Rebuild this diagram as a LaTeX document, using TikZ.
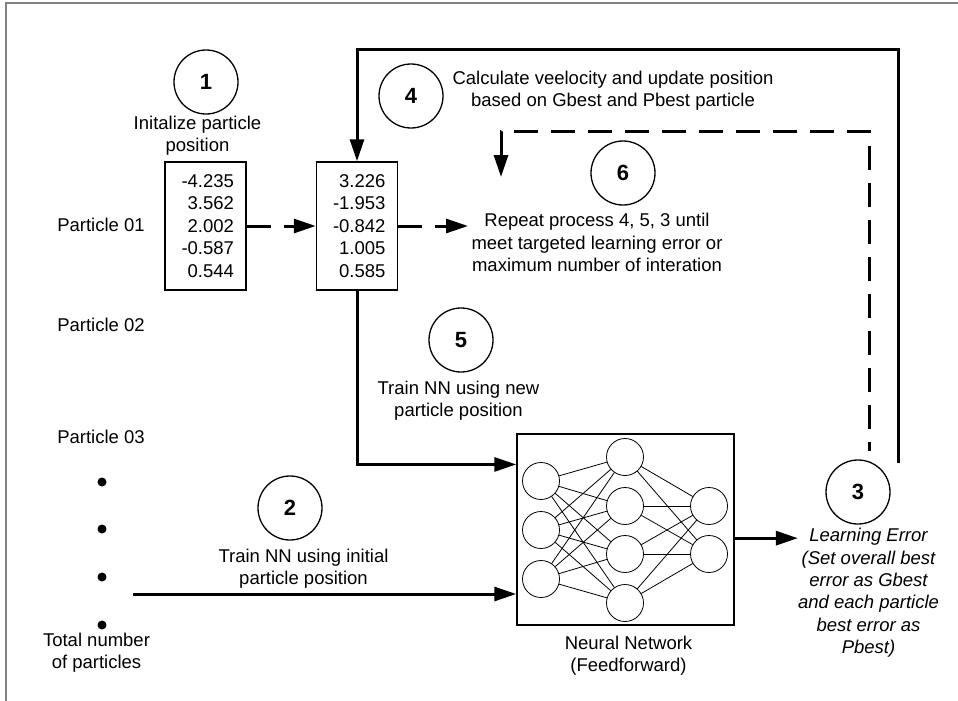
\documentclass[tikz,border=0pt]{standalone}
\usepackage{fontspec}
\setmainfont{Liberation Sans}
\usetikzlibrary{arrows.meta,calc}

\tikzset{
  stepnum/.style={circle, draw, line width=1.3pt, minimum size=64pt, inner sep=0pt,
                  font=\fontsize{22}{24}\selectfont\bfseries},
  numbox/.style={draw, line width=1.5pt, align=right, text width=57pt,
                 inner xsep=12pt, minimum height=128pt},
  txt/.style={align=center, inner sep=0pt},
  neuron/.style={circle, draw, line width=0.8pt, minimum size=37pt, inner sep=0pt},
  flow/.style={line width=3pt, -{Triangle[length=22pt,width=14pt]}},
  dashflow/.style={flow, dash pattern=on 24pt off 13pt}
}

\begin{document}
\begin{tikzpicture}[x=1pt, y=-1pt, font=\fontsize{18.5}{22.4}\selectfont]

\useasboundingbox (0,0) rectangle (958,701);

% frame
\draw [gray, line width=2pt] (958,3) -- (6,3) -- (6,701);

% particles
\node [txt] (part1) at (101,225) {Particle 01};
\node [txt] (part2) at (101,325) {Particle 02};
\node [txt] (part3) at (101,437) {Particle 03};
\foreach \y [count=\k] in {482,529,577,625}
  \node [circle, fill, inner sep=0pt, minimum size=9pt] (dot\k) at (102,\y) {};
\node [txt] (total) at (96.5,653) {Total number\\of particles};

% step 1 and 4: particle positions
\node [stepnum] (s1) at (206,82) {1};
\node [txt] (init) at (197.5,136) {Initalize particle\\position};
\node [numbox] (pos1) at (205.5,226) {-4.235\\3.562\\2.002\\-0.587\\0.544};

\node [stepnum] (s4) at (411,96) {4};
\node [txt] (upd) at (613,90.5) {Calculate veelocity and update position\\based on Gbest and Pbest particle};
\node [numbox] (pos2) at (357,226) {3.226\\-1.953\\-0.842\\1.005\\0.585};

% step 6
\node [stepnum] (s6) at (623,173) {6};
\node [txt] (rep) at (597,242.5) {Repeat process 4, 5, 3 until\\meet targeted learning error or\\maximum number of interation};

% step 5 and 2
\node [stepnum] (s5) at (461,340) {5};
\node [txt] (trnew) at (458.5,401) {Train NN using new\\particle position};
\node [stepnum] (s2) at (290,508) {2};
\node [txt] (trinit) at (303.5,569) {Train NN using initial\\particle position};

% neural network
\node [draw, line width=1.5pt, minimum width=217pt, minimum height=191pt] (nn) at (625.5,529.5) {};
\foreach \y [count=\k] in {481,530,579} \node [neuron] (in\k) at (541,\y) {};
\foreach \y [count=\k] in {457,506,554,603} \node [neuron] (hid\k) at (625,\y) {};
\foreach \y [count=\k] in {506,554} \node [neuron] (out\k) at (709,\y) {};
\foreach \a in {1,2,3} \foreach \b in {1,...,4} \draw [line width=0.8pt] (in\a) -- (hid\b);
\foreach \a in {1,...,4} \foreach \b in {1,2} \draw [line width=0.8pt] (hid\a) -- (out\b);
\node [txt] (nncap) at (628.5,656) {Neural Network\\(Feedforward)};

% step 3
\node [stepnum] (s3) at (858,492) {3};
\node [txt, font=\fontsize{18.5}{22.4}\selectfont\itshape] (err) at (868.5,593)
  {Learning Error\\(Set overall best\\error as Gbest\\and each particle\\best error as\\Pbest)};

% arrows
\coordinate (repSide) at (468,226);
\coordinate (allPart) at (133,594);
\coordinate (nnOut) at ($(nn.north east)!0.545!(nn.south east)$);
\coordinate (solidEnd) at (898,463);
\coordinate (dashEnd) at (869,451);
\coordinate (repIn) at (501,177);

\draw [dashflow] (pos1.east) -- (pos2.west);
\draw [dashflow] (pos2.east) -- (repSide);
\draw [flow] (pos2.south) |- ($(nn.north west)!0.162!(nn.south west)$);
\draw [flow] (allPart) -- (allPart -| nn.west);
\draw [flow] (nnOut) -- (nnOut -| err.west);

% loops back from the error
\draw [flow] (solidEnd) -- (898,50) -| (pos2.north);
\draw [dashflow, dash phase=15pt] (dashEnd) |- ([yshift=46pt]repIn) -- (repIn);

\end{tikzpicture}
\end{document}
